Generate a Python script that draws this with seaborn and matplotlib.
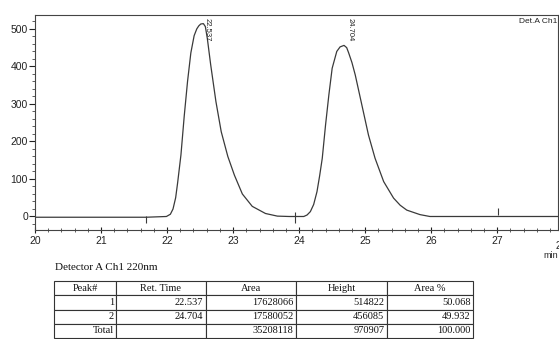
import pandas as pd
import matplotlib
matplotlib.use("Agg")
import matplotlib.pyplot as plt
from matplotlib.ticker import MultipleLocator
import seaborn as sns

# chromatogram trace (min, mV)
time_min = [20.00, 20.80, 21.68, 21.99, 22.05, 22.09, 22.13, 22.16, 22.21, 22.26,
            22.31, 22.36, 22.41, 22.45, 22.48, 22.51, 22.55, 22.58, 22.61, 22.66,
            22.74, 22.82, 22.92, 23.02, 23.14, 23.29, 23.49, 23.67, 23.85, 24.07,
            24.12, 24.17, 24.22, 24.27, 24.31, 24.35, 24.40, 24.45, 24.50, 24.57,
            24.62, 24.68, 24.72, 24.75, 24.80, 24.85, 24.95, 25.05, 25.15, 25.28,
            25.43, 25.53, 25.63, 25.83, 25.98, 26.50, 27.00, 27.50, 27.92]
signal_mv = [-2, -2, -2, 0, 6, 20, 50, 90, 164, 268,
             360, 436, 482, 500, 508, 513, 514, 506, 474, 405,
             306, 226, 160, 110, 60, 27, 8, 1, 0, 0,
             4, 13, 32, 66, 108, 155, 244, 324, 395, 440,
             452, 456, 450, 436, 410, 377, 297, 217, 155, 93,
             49, 30, 17, 5, 0, 0, 0, 0, 0]

# small integration marks on the baseline
mark_time = [21.68, 23.94, 27.01]
mark_low = [-17, -18, 3]
mark_high = [0, 13, 23]

peak_no = ["1", "2"]
ret_time = [22.537, 24.704]
area = [17628066, 17580052]
height = [514822, 456085]
area_pct = [50.068, 49.932]

sns.set_style("ticks")
plt.rcParams["font.family"] = ["Liberation Sans", "DejaVu Sans"]

df = pd.DataFrame({"time": time_min, "signal": signal_mv})

fig = plt.figure(figsize=(5.59, 3.39), dpi=100)
ax = fig.add_axes([35 / 559, 1 - 230 / 339, 523 / 559, 215 / 339])
sns.lineplot(data=df, x="time", y="signal", ax=ax, color="#3a3a3a",
             linewidth=0.9, estimator=None, sort=False)
ax.vlines(mark_time, mark_low, mark_high, color="#3a3a3a", linewidth=0.8)

ax.set_xlim(20, 27.92)
ax.set_ylim(-36, 537)
ax.xaxis.set_major_locator(MultipleLocator(1))
ax.xaxis.set_minor_locator(MultipleLocator(0.2))
ax.yaxis.set_major_locator(MultipleLocator(100))
ax.yaxis.set_minor_locator(MultipleLocator(20))
ax.set_yticks([0, 100, 200, 300, 400, 500])
ax.tick_params(axis="x", which="major", direction="inout", length=5, width=0.8,
               labelsize=7.5, colors="#222222", pad=2)
ax.tick_params(axis="x", which="minor", direction="inout", length=3, width=0.6,
               colors="#444444")
ax.tick_params(axis="y", which="major", direction="out", length=4, width=0.8,
               labelsize=7.5, colors="#222222", pad=1)
ax.tick_params(axis="y", which="minor", direction="out", length=2, width=0.6,
               colors="#444444")
ax.set_xlabel("")
ax.set_ylabel("")
for s in ax.spines.values():
    s.set_color("#444444")
    s.set_linewidth(0.8)

for rt in ret_time:
    ax.text(rt + 0.07, 530, f"{rt:.3f}", rotation=270, ha="center", va="top",
            fontsize=5.5, color="#222222")
ax.text(0.998, 0.985, "Det.A Ch1", transform=ax.transAxes, ha="right", va="top",
        fontsize=6, color="#222222")
ax.text(27.88, -0.05, "28", transform=ax.get_xaxis_transform(), ha="left",
        va="top", fontsize=7, color="#222222", clip_on=False)
fig.text(558 / 559, 1 - 256 / 339, "min", ha="right", va="center", fontsize=6.5,
         color="#222222")

# peak table
fig.text(55 / 559, 1 - 268 / 339, "Detector A Ch1 220nm", ha="left", va="center",
         fontsize=8, family="Liberation Serif", color="#111111")
tax = fig.add_axes([54 / 559, 1 - 338 / 339, 419 / 559, 57 / 339])
tax.axis("off")
rows = [[peak_no[i], f"{ret_time[i]:.3f}", str(area[i]), str(height[i]),
         f"{area_pct[i]:.3f}"] for i in range(2)]
rows.append(["Total", "", str(sum(area)), str(sum(height)),
             f"{sum(area_pct):.3f}"])
widths = [62, 90, 90, 91, 86]
tbl = tax.table(cellText=rows, colLabels=["Peak#", "Ret. Time", "Area", "Height", "Area %"],
                cellLoc="right", colLoc="center", bbox=[0, 0, 1, 1],
                colWidths=[w / sum(widths) for w in widths])
tbl.auto_set_font_size(False)
tbl.set_fontsize(7.5)
for (r, c), cell in tbl.get_celld().items():
    cell.PAD = 0.03
    cell.set_edgecolor("#333333")
    cell.set_linewidth(0.8)
    cell.get_text().set_fontfamily("Liberation Serif")
    cell.get_text().set_color("#111111")

fig.savefig("out.png", dpi=100)
